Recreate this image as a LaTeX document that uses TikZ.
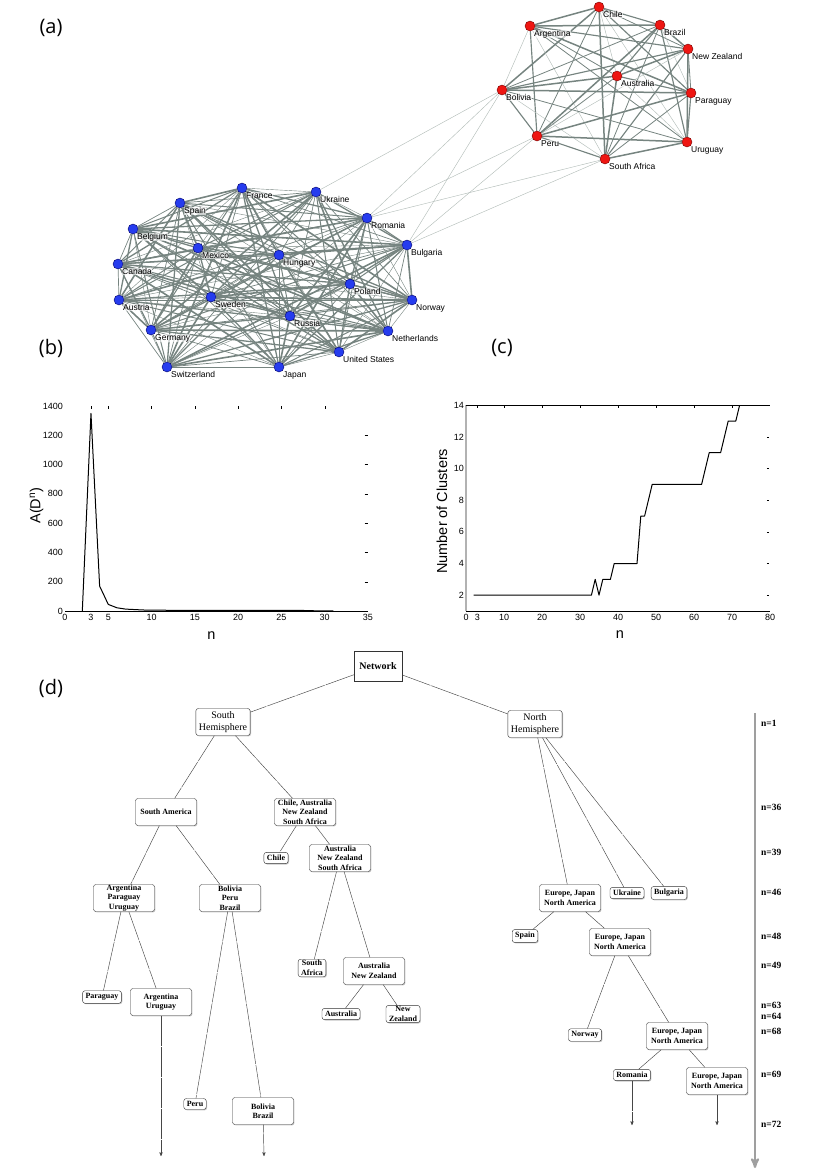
\documentclass[tikz,border=0pt]{standalone}
\usepackage{fontspec}
\setmainfont{Liberation Serif}
\setsansfont{Liberation Sans}
\newfontfamily\panelfont{Open Sans}
\usetikzlibrary{arrows,shadows,backgrounds}

\definecolor{edgegray}{RGB}{118,132,128}
\definecolor{lightedge}{RGB}{180,190,186}
\definecolor{nodered}{RGB}{238,22,18}
\definecolor{nodeblue}{RGB}{38,60,238}
\definecolor{treeline}{RGB}{70,70,70}

\begin{document}
\begin{tikzpicture}[x=1pt,y=-1pt,>=stealth',font=\sffamily]
  \tikzstyle{panel}=[font=\panelfont\fontsize{20}{24}\selectfont,inner sep=0pt]
  \tikzstyle{red node}=[circle,draw=red!45!black,fill=nodered,inner sep=0pt,minimum size=10pt,line width=0.4pt,label distance=-1.5pt]
  \tikzstyle{blue node}=[red node,draw=blue!40!black,fill=nodeblue]
  \tikzstyle{netlabel}=[font=\sffamily\fontsize{8.5}{9}\selectfont,inner sep=0.3pt,fill=white,fill opacity=0.6,text opacity=1]
  \tikzstyle{net edge}=[draw=edgegray]
  \tikzstyle{thin edge}=[draw=lightedge,line width=0.45pt]
  \tikzstyle{plot axis}=[draw=black,line width=0.5pt]
  \tikzstyle{plot tick}=[draw=black,line width=0.4pt]
  \tikzstyle{data line}=[draw=black,line width=1pt,line join=round]
  \tikzstyle{xtick label}=[anchor=north,inner sep=0pt,yshift=-3pt,font=\sffamily\fontsize{9}{10}\selectfont]
  \tikzstyle{ytick label}=[anchor=east,inner sep=0pt,xshift=-2pt,font=\sffamily\fontsize{9}{10}\selectfont]
  \tikzstyle{axis label}=[inner sep=0pt,font=\sffamily\fontsize{14.5}{16}\selectfont]
  \tikzstyle{tree box}=[draw=black!80,fill=white,rounded corners=2.5pt,align=center,
    drop shadow={shadow xshift=0.9pt,shadow yshift=-0.9pt,opacity=0.45},
    font=\bfseries\fontsize{8}{9.5}\selectfont,inner xsep=3pt,inner ysep=2.8pt]
  \tikzstyle{wide box}=[tree box,minimum width=61pt,minimum height=27pt,inner ysep=0pt]
  \tikzstyle{hemi box}=[tree box,font=\fontsize{10}{12}\selectfont,minimum width=52pt,minimum height=27pt,inner ysep=0pt]
  \tikzstyle{root box}=[tree box,sharp corners,font=\bfseries\fontsize{10}{12}\selectfont,minimum width=48pt,minimum height=30pt]
  \tikzstyle{tree edge}=[draw=treeline,line width=0.45pt,dash pattern=on 30pt off 1pt]
  \tikzstyle{time axis}=[draw=gray!75,line width=2.2pt,->]
  \tikzstyle{nlabel}=[anchor=west,inner sep=0pt,font=\bfseries\fontsize{9.5}{11}\selectfont]

  \useasboundingbox (0,0) rectangle (831,1175);

  % (a) the two clusters
  \node[panel] (la) at (51,28) {(a)};
  \foreach \name/\txt/\x/\y in {chile/Chile/599/7, argentina/Argentina/530/26,
      brazil/Brazil/660/25, newzealand/New Zealand/688/49, australia/Australia/617/76,
      bolivia/Bolivia/502/90, paraguay/Paraguay/691/93, peru/Peru/537/136,
      uruguay/Uruguay/687/142, southafrica/South Africa/605/159}
    \node[red node,label={[netlabel]below right:\txt}] (\name) at (\x,\y) {};
  \foreach \name/\txt/\x/\y in {france/France/242/188, ukraine/Ukraine/316/192,
      spain/Spain/180/203, romania/Romania/367/218, belgium/Belgium/133/229,
      bulgaria/Bulgaria/407/245, mexico/Mexico/198/248, hungary/Hungary/279/255,
      canada/Canada/118/264, poland/Poland/350/284, sweden/Sweden/211/297,
      austria/Austria/119/300, norway/Norway/412/300, russia/Russia/290/316,
      germany/Germany/151/330, netherlands/Netherlands/388/331,
      unitedstates/United States/339/352, switzerland/Switzerland/167/367,
      japan/Japan/279/367}
    \node[blue node,label={[netlabel]below right:\txt}] (\name) at (\x,\y) {};

  \begin{scope}[on background layer]
    \foreach \u [count=\i] in {chile,argentina,brazil,newzealand,australia,bolivia,paraguay,peru,uruguay,southafrica}{
      \foreach \v [count=\j] in {chile,argentina,brazil,newzealand,australia,bolivia,paraguay,peru,uruguay,southafrica}{
        \ifnum\j>\i
          \pgfmathtruncatemacro\w{mod(\i*5+\j*3,4)}
          \pgfmathsetmacro\lw{0.45+0.35*\w}
          \ifnum\w=0 \draw[thin edge] (\u) -- (\v);
          \else \draw[net edge,line width=\lw pt] (\u) -- (\v); \fi
        \fi
      }
    }
    \foreach \u [count=\i] in {france,ukraine,spain,romania,belgium,bulgaria,mexico,hungary,canada,poland,sweden,austria,norway,russia,germany,netherlands,unitedstates,switzerland,japan}{
      \foreach \v [count=\j] in {france,ukraine,spain,romania,belgium,bulgaria,mexico,hungary,canada,poland,sweden,austria,norway,russia,germany,netherlands,unitedstates,switzerland,japan}{
        \ifnum\j>\i
          \pgfmathtruncatemacro\w{mod(\i*7+\j*4,5)}
          \pgfmathsetmacro\lw{0.4+0.3*\w}
          \draw[net edge,line width=\lw pt] (\u) -- (\v);
        \fi
      }
    }
    \foreach \u/\v in {ukraine/bolivia, romania/bolivia, romania/peru, romania/southafrica,
        bulgaria/bolivia, bulgaria/peru, bulgaria/southafrica}
      \draw[thin edge] (\u) -- (\v);
  \end{scope}

  % (b)
  \node[panel] (lb) at (51,348) {(b)};
  \begin{scope}[shift={(65,611)},x=8.657pt,y=0.14643pt]
    \draw[plot axis] (0,0) -- (35,0);
    \foreach \t in {3,5,10,15,20,25,30} \draw[plot tick] (\t,1400) -- ++(0,-22);
    \foreach \t in {200,400,...,1200} \draw[plot tick] (34.6,\t) -- (35,\t);
    \foreach \t in {0,3,5,10,15,20,25,30,35} \node[xtick label] (bx\t) at (\t,0) {\t};
    \foreach \t in {0,200,...,1400} \node[ytick label] (by\t) at (0,\t) {\t};
    \draw[data line] plot coordinates {(2,0) (3,1350) (4,170) (5,45) (6,22) (7,13) (8,10)
      (9,7) (10,6) (12,5) (15,4) (20,4) (27.5,4) (28,2) (31,1)};
    \node[axis label,rotate=90] (bylab) at (-3.3,720) {A(D\textsuperscript{n})};
    \node[axis label] (bxlab) at (16.9,-165) {n};
  \end{scope}

  % (c)
  \node[panel] (lc) at (502,348) {(c)};
  \begin{scope}[shift={(466,611)},x=3.8pt,y=15.83pt]
    \draw[draw=gray!60,line width=1.4pt] (0,0) -- (0,13);
    \draw[plot axis] (0,0) -- (80,0);
    \draw[plot axis] (0,13) -- (80,13);
    \foreach \t in {3,10,20,...,70} \draw[plot tick] (\t,13) -- ++(0,-0.2);
    \foreach \t in {2,4,...,12} \draw[plot tick] (79.2,\t-1) -- (79.7,\t-1);
    \foreach \t in {0,3,10,20,...,80} \node[xtick label] (cx\t) at (\t,0) {\t};
    \foreach \t in {2,4,...,14} \node[ytick label] (cy\t) at (0,\t-1) {\t};
    \draw[data line] plot coordinates {(2,1) (33,1) (34,2) (35,1) (36,2) (38,2) (39,3)
      (45,3) (46,6) (47,6) (49,8) (62,8) (64,10) (67,10) (69,12) (71,12) (72,13)};
    \node[axis label,rotate=90] (cylab) at (-6.3,6.3) {Number of Clusters};
    \node[axis label] (cxlab) at (40.5,-1.5) {n};
  \end{scope}

  % (d) the tree
  \node[panel] (ld) at (51,688) {(d)};
  \node[root box] (network) at (378,666) {Network};
  \node[hemi box] (south) at (223,722) {South\\Hemisphere};
  \node[hemi box] (north) at (535,724) {North\\Hemisphere};
  \node[wide box] (samerica) at (166,812) {South America};
  \node[wide box] (chileaus) at (305,812) {Chile, Australia\\New Zealand\\South Africa};
  \node[tree box] (chile2) at (276,858) {Chile};
  \node[wide box] (ausnzsa) at (340,858) {Australia\\New Zealand\\South Africa};
  \node[wide box] (apu) at (124,898) {Argentina\\Paraguay\\Uruguay};
  \node[wide box] (bpb) at (230,898) {Bolivia\\Peru\\Brazil};
  \node[tree box,inner ysep=1.2pt] (safrica) at (312,968) {South\\Africa};
  \node[wide box] (ausnz) at (374,971) {Australia\\New Zealand};
  \node[tree box] (paraguay2) at (102,997) {Paraguay};
  \node[wide box] (argury) at (161,1002) {Argentina\\Uruguay};
  \node[tree box] (australia2) at (341,1014) {Australia};
  \node[tree box,inner ysep=1.2pt] (newzealand2) at (403,1014) {New\\Zealand};
  \node[tree box] (peru2) at (195,1104) {Peru};
  \node[wide box] (bolbra) at (263,1111) {Bolivia\\Brazil};
  \node[wide box] (europe1) at (570,898) {Europe, Japan\\North America};
  \node[tree box] (ukraine2) at (627,893) {Ukraine};
  \node[tree box] (bulgaria2) at (669,893) {Bulgaria};
  \node[tree box] (spain2) at (525,936) {Spain};
  \node[wide box] (europe2) at (620,942) {Europe, Japan\\North America};
  \node[tree box] (norway2) at (585,1035) {Norway};
  \node[wide box] (europe3) at (677,1036) {Europe, Japan\\North America};
  \node[tree box] (romania2) at (632,1075) {Romania};
  \node[wide box] (europe4) at (717,1081) {Europe, Japan\\North America};

  \coordinate (endA) at (161,1156);
  \coordinate (endB) at (264,1156);
  \coordinate (endC) at (632,1125);
  \coordinate (endD) at (717,1125);

  \foreach \p/\c in {network/south, network/north, south/samerica, south/chileaus,
      samerica/apu, samerica/bpb, chileaus/chile2, chileaus/ausnzsa,
      apu/paraguay2, apu/argury, bpb/peru2, bpb/bolbra,
      ausnzsa/safrica, ausnzsa/ausnz, ausnz/australia2, ausnz/newzealand2,
      north/europe1, north/ukraine2, north/bulgaria2,
      europe1/spain2, europe1/europe2, europe2/norway2, europe2/europe3,
      europe3/romania2, europe3/europe4}
    \draw[tree edge] (\p) -- (\c);
  \draw[tree edge,->] (argury) -- (endA);
  \draw[tree edge,->] (bolbra) -- (endB);
  \draw[tree edge,->] (romania2) -- (endC);
  \draw[tree edge,->] (europe4) -- (endD);

  % the n scale on the right
  \coordinate (ttop) at (755,713);
  \coordinate (tbot) at (755,1168);
  \draw[time axis] (ttop) -- (tbot);
  \foreach \n/\y in {1/723, 36/807, 39/852, 46/892, 48/936, 49/965,
      63/1005, 64/1016, 68/1031, 69/1074, 72/1124}
    \node[nlabel] (n\n) at (761,\y) {n=\n};
\end{tikzpicture}
\end{document}
